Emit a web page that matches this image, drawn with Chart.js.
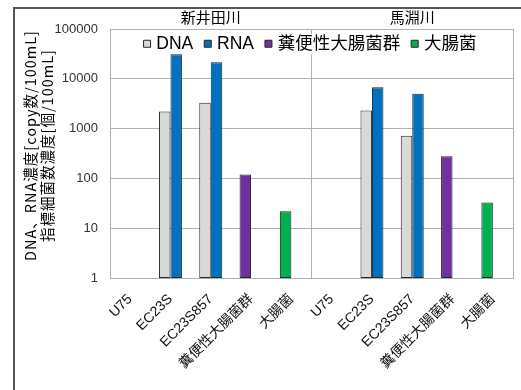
<!DOCTYPE html>
<html><head><meta charset="utf-8">
<script src="https://cdn.jsdelivr.net/npm/chart.js@4/dist/chart.umd.min.js"></script>
<style>
html,body{margin:0;padding:0;background:#fff;}
#wrap{position:relative;width:521px;height:390px;overflow:hidden;background:#fff;}
#frame{position:absolute;left:13px;top:7px;width:600px;height:500px;border-left:2px solid #555;border-top:2px solid #555;pointer-events:none;}
canvas{display:block}
</style></head><body>
<div id="wrap"><canvas id="c" width="521" height="390"></canvas><div id="frame"></div></div>
<script>
const groups = ['新井田川', '馬淵川'];
const categories = ['U75', 'EC23S', 'EC23S857', '糞便性大腸菌群', '大腸菌',
                    'U75', 'EC23S', 'EC23S857', '糞便性大腸菌群', '大腸菌'];
const seriesNames = ['DNA', 'RNA', '糞便性大腸菌群', '大腸菌'];
const dnaValues   = [null, 2200, 3300, null, null,  null, 2300, 720, null, null];
const rnaValues   = [null, 31000, 21500, null, null, null, 6800, 5000, null, null];
const fecalValues = [null, null, null, 120, null,   null, null, null, 280, null];
const ecoliValues = [null, null, null, null, 22,    null, null, null, null, 33];
const yTicks = [1, 10, 100, 1000, 10000, 100000];

const GRID = '#b0b0b0';
const LATIN_JP = '"Liberation Sans", "Noto Sans CJK JP", sans-serif';
const JP = '"Noto Sans CJK JP", sans-serif';

const legendInPlot = {
  id: 'legendInPlot',
  afterInit(chart) {
    const L = chart.legend;
    const origFit = L.fit;
    L.fit = function () { origFit.call(this); this._realHeight = this.height; this.height = 0; };
    const origDraw = L.draw;
    L.draw = function (area) {
      const pad = this.options.labels.padding;
      const lw = this.lineWidths ? this.lineWidths[0] : 0;
      const x0 = (this.left + pad + this.right - lw) / 2;
      const fs = this.options.labels.font.size;
      const ctx = this.ctx;
      ctx.save();
      ctx.fillStyle = '#fff';
      ctx.fillRect(x0 - 8, this.top + pad - 1, lw - pad + 12, fs + 3);
      ctx.restore();
      origDraw.call(this, area);
    };
  },
  afterLayout(chart) {
    const L = chart.legend, a = chart.chartArea;
    L.left = a.left; L.right = a.right; L.width = a.right - a.left;
    L.top = a.top - 8; L.height = L._realHeight || 40; L.bottom = L.top + L.height;
    const ys = chart.scales.y;
    if (!ys._wrappedTitle) {
      const orig = ys.drawTitle;
      ys.drawTitle = function () {
        const ctx = this.ctx;
        ctx.save();
        ctx.letterSpacing = '1px';
        ctx.translate(0, -8);
        orig.call(this);
        ctx.restore();
      };
      ys._wrappedTitle = true;
    }
  }
};

new Chart(document.getElementById('c'), {
  type: 'bar',
  data: {
    labels: categories,
    datasets: [
      { label: seriesNames[0], data: dnaValues,   backgroundColor: '#d9d9d9', stack: 'a' },
      { label: seriesNames[1], data: rnaValues,   backgroundColor: '#0070c0', stack: 'b' },
      { label: seriesNames[2], data: fecalValues, backgroundColor: '#7030a0', stack: 'a' },
      { label: seriesNames[3], data: ecoliValues, backgroundColor: '#00b050', stack: 'a' }
    ]
  },
  options: {
    responsive: false,
    animation: false,
    layout: { padding: { top: 5, left: 0, right: 8, bottom: 0 } },
    datasets: { bar: { categoryPercentage: 0.57, barPercentage: 1, borderWidth: 1,
                       borderColor: '#262626', borderSkipped: false } },
    scales: {
      x: {
        type: 'category', offset: true,
        grid: { display: false },
        border: { display: true, color: GRID, width: 1 },
        ticks: { autoSkip: false, maxRotation: 45, minRotation: 45, color: '#111', padding: 5,
                 font: { size: 14, family: LATIN_JP } },
        afterFit(s) { s.height = 112; }
      },
      x2: {
        type: 'category', position: 'top', labels: groups, offset: true,
        grid: { offset: true, color: GRID, drawTicks: false },
        border: { display: false },
        ticks: { padding: 3, color: '#000', font: { size: 15, family: JP } }
      },
      y: {
        type: 'logarithmic', min: 1, max: 100000, stacked: false,
        grid: { color: GRID, drawTicks: false },
        border: { display: true, color: GRID },
        afterBuildTicks(s) { s.ticks = yTicks.map(v => ({ value: v })); },
        afterFit(s) { s.width = 110; },
        ticks: { padding: 12, color: '#333', font: { size: 13, family: LATIN_JP },
                 callback: v => String(v) },
        title: { display: true, color: '#000',
                 text: ['DNA、RNA濃度[copy数/100mL]', '指標細菌数濃度[個/100mL]'],
                 font: { size: 14.5, family: JP, lineHeight: 1.14 },
                 padding: { top: 22.5, bottom: 0 } }
      }
    },
    plugins: {
      legend: {
        position: 'top', align: 'center',
        labels: { usePointStyle: true, pointStyle: 'rect', boxWidth: 1, boxHeight: 7, padding: 14,
                  color: '#000', font: { size: 17.5, family: LATIN_JP } }
      },
      tooltip: { enabled: false }
    }
  },
  plugins: [legendInPlot]
});
</script>
</body></html>
